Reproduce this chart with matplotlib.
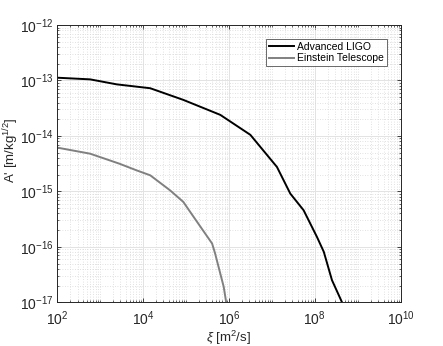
import matplotlib
matplotlib.use("Agg")
import matplotlib.pyplot as plt
from matplotlib.ticker import LogLocator, NullFormatter, FixedLocator
import numpy as np

plt.rcParams['font.family'] = ['Liberation Sans', 'DejaVu Sans']
plt.rcParams['mathtext.fontset'] = 'custom'
plt.rcParams['mathtext.rm'] = 'Liberation Sans'
plt.rcParams['mathtext.it'] = 'Liberation Sans:italic'

# log10 values
ligo_logxi = [2.0, 2.77, 3.39, 4.17, 4.94, 5.80, 6.50, 7.12, 7.43, 7.74, 8.05, 8.21, 8.40, 8.64]
ligo_logA = [-12.95, -12.98, -13.07, -13.14, -13.35, -13.62, -13.98, -14.56, -15.04, -15.34, -15.82, -16.09, -16.60, -17.01]

et_logxi = [2.0, 2.77, 3.45, 3.85, 4.17, 4.63, 4.94, 5.18, 5.61, 5.68, 5.88, 5.94]
et_logA = [-14.21, -14.32, -14.50, -14.62, -14.71, -14.98, -15.19, -15.46, -15.94, -16.12, -16.72, -17.01]

labels = ['Advanced LIGO', 'Einstein Telescope']

fig = plt.figure(figsize=(4.43, 3.46), dpi=100)
ax = fig.add_axes([0.1287, 0.1263, 0.7758, 0.8014])

ax.plot(10**np.array(ligo_logxi), 10**np.array(ligo_logA), color='black', lw=1.4, label=labels[0])
ax.plot(10**np.array(et_logxi), 10**np.array(et_logA), color=(0.5, 0.5, 0.5), lw=1.4, label=labels[1])

ax.set_xscale('log')
ax.set_yscale('log')
ax.set_xlim(1e2, 1e10)
ax.set_ylim(1e-17, 1e-12)
ax.xaxis.set_major_locator(FixedLocator([1e2, 1e4, 1e6, 1e8, 1e10]))
ax.xaxis.set_minor_locator(LogLocator(base=10, subs=np.arange(1, 10), numticks=100))
ax.xaxis.set_minor_formatter(NullFormatter())
ax.yaxis.set_major_locator(FixedLocator([1e-17, 1e-16, 1e-15, 1e-14, 1e-13, 1e-12]))
ax.yaxis.set_minor_locator(LogLocator(base=10, subs=np.arange(2, 10), numticks=100))
ax.yaxis.set_minor_formatter(NullFormatter())

ax.grid(which='major', color='#e3e3e3', lw=0.7, ls='-')
ax.grid(which='minor', color='#d8d8d8', lw=0.6, ls=(0, (1, 2)))
ax.set_axisbelow(True)

ax.tick_params(which='both', direction='in', top=True, right=True, labelsize=10, colors='#262626')
ax.tick_params(axis='x', which='major', pad=5)
ax.tick_params(axis='y', which='major', pad=2.5)
ax.tick_params(which='major', length=3, width=0.6)
ax.tick_params(which='minor', length=1.6, width=0.5)
for s in ax.spines.values():
    s.set_color('#262626')
    s.set_linewidth(0.7)

ax.set_xlabel(r'$\xi$ [m$^2$/s]', fontsize=9.5, color='#262626', labelpad=1)
ax.set_ylabel(r"A' [m/kg$^{1/2}$]", fontsize=9.5, color='#262626')
ax.yaxis.set_label_coords(-0.105, 0.55)

leg = ax.legend(loc='upper right', fontsize=7.5, frameon=True, fancybox=False, handlelength=2.4,
                handletextpad=0.3, borderpad=0.3, labelspacing=0.15,
                bbox_to_anchor=(0.975, 0.97))
leg.get_frame().set_edgecolor('#262626')
leg.get_frame().set_linewidth(0.6)

fig.savefig('out.png', dpi=100)
